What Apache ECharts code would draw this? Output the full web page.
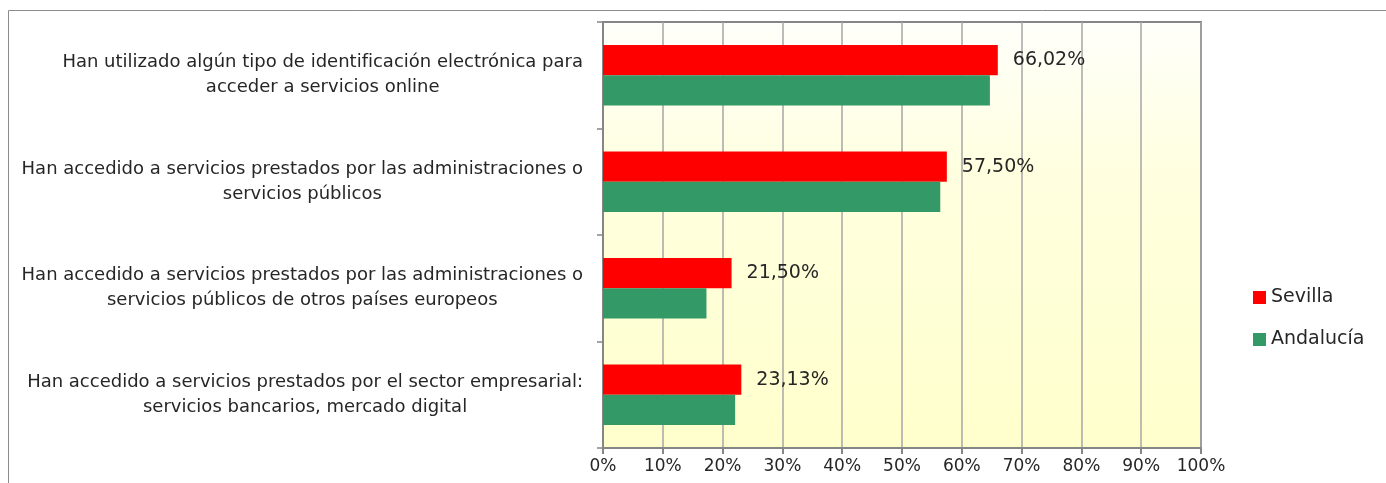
<!DOCTYPE html>
<html lang="es">
<head>
    <meta charset="UTF-8" />
    <style>
        html, body { margin: 0; padding: 0; background: #fff; }
        #chart { width: 1386px; height: 483px; }
    </style>
    <script src="https://cdn.jsdelivr.net/npm/echarts@6/dist/echarts.min.js"></script>
</head>
<body>
    <div id="chart"></div>
    <script>
        // datos
        const categories = [
            'Han utilizado algún tipo de identificación electrónica para\nacceder a servicios online',
            'Han accedido a servicios prestados por las administraciones o\nservicios públicos',
            'Han accedido a servicios prestados por las administraciones o\nservicios públicos de otros países europeos',
            'Han accedido a servicios prestados por el sector empresarial:\nservicios bancarios, mercado digital'
        ]
        const sevilla = [66.02, 57.50, 21.50, 23.13]
        const andalucia = [64.7, 56.4, 17.3, 22.1]
        const xTicks = [0, 10, 20, 30, 40, 50, 60, 70, 80, 90, 100]

        const fontFam = 'DejaVu Sans'
        const textColor = '#262626'
        const labelSize = 18

        // las líneas de cada etiqueta van centradas entre sí (como en Excel)
        const ctx = document.createElement('canvas').getContext('2d')
        ctx.font = labelSize + 'px "' + fontFam + '"'
        const rich = {}
        categories.forEach((c, i) => {
            const lines = c.split('\n')
            const widths = lines.map(l => ctx.measureText(l).width)
            const maxW = Math.max(...widths)
            lines.forEach((l, j) => {
                rich['c' + i + '_' + j] = {
                    fontSize: labelSize,
                    lineHeight: 25,
                    color: textColor,
                    fontFamily: fontFam,
                    padding: [0, (maxW - widths[j]) / 2, 0, 0]
                }
            })
        })

        var myChart = echarts.init(document.getElementById('chart'))
        var option = {
            animation: false,
            textStyle: { fontFamily: fontFam },
            graphic: [{
                type: 'rect',
                shape: { x: 8.5, y: 10.5, width: 1400, height: 500 },
                style: { fill: 'none', stroke: '#8c8c8c', lineWidth: 1 },
                silent: true
            }],
            grid: {
                left: 603,
                width: 598,
                top: 22,
                height: 426,
                show: true,
                borderColor: '#868686',
                borderWidth: 2,
                backgroundColor: {
                    type: 'linear', x: 0, y: 0, x2: 0, y2: 1,
                    colorStops: [
                        { offset: 0, color: '#fffffb' },
                        { offset: 0.35, color: '#ffffe0' },
                        { offset: 1, color: '#ffffcc' }
                    ]
                }
            },
            legend: {
                orient: 'vertical',
                left: 1248,
                top: 283,
                itemWidth: 13,
                itemHeight: 13,
                itemGap: 23,
                icon: 'rect',
                textStyle: { fontSize: 19, color: textColor, fontFamily: fontFam },
                data: ['Sevilla', 'Andalucía']
            },
            xAxis: {
                type: 'value',
                min: 0,
                max: 100,
                interval: 10,
                axisLine: { show: true, lineStyle: { color: '#868686', width: 2 } },
                axisTick: { show: true, length: 6, lineStyle: { color: '#868686', width: 2 } },
                splitLine: { show: true, lineStyle: { color: '#a6a6a6', width: 1.5 } },
                axisLabel: {
                    color: textColor,
                    fontSize: 17,
                    margin: 10,
                    formatter: v => xTicks.includes(v) ? v + '%' : ''
                }
            },
            yAxis: {
                type: 'category',
                inverse: true,
                data: categories,
                axisLine: { show: true, lineStyle: { color: '#868686', width: 2 } },
                axisTick: { show: true, length: 6, lineStyle: { color: '#868686', width: 1.5 } },
                axisLabel: {
                    color: textColor,
                    fontSize: labelSize,
                    lineHeight: 25,
                    margin: 20,
                    align: 'right',
                    rich: rich,
                    formatter: (val, idx) => val.split('\n')
                        .map((l, j) => '{c' + idx + '_' + j + '|' + l + '}')
                        .join('\n')
                }
            },
            series: [
                {
                    name: 'Sevilla',
                    type: 'bar',
                    data: sevilla,
                    barGap: 0,
                    barCategoryGap: '43%',
                    itemStyle: { color: '#ff0000' },
                    label: {
                        show: true,
                        position: 'right',
                        distance: 15,
                        color: textColor,
                        fontSize: 19,
                        formatter: p => p.value.toFixed(2).replace('.', ',') + '%'
                    }
                },
                {
                    name: 'Andalucía',
                    type: 'bar',
                    data: andalucia,
                    itemStyle: { color: '#339966' }
                }
            ]
        }
        myChart.setOption(option)
    </script>
</body>
</html>
